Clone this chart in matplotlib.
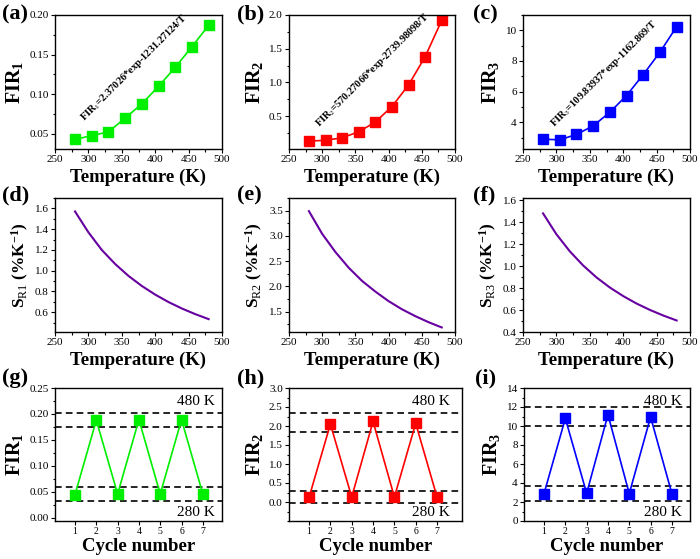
import numpy as np
import matplotlib
matplotlib.use('Agg')
import matplotlib.pyplot as plt
from matplotlib.ticker import AutoMinorLocator

plt.rcParams['font.family'] = ['Liberation Serif', 'DejaVu Serif']
plt.rcParams['mathtext.fontset'] = 'custom'
plt.rcParams['mathtext.rm'] = 'Liberation Serif'
plt.rcParams['mathtext.it'] = 'Liberation Serif:italic'
plt.rcParams['mathtext.bf'] = 'Liberation Serif:bold'

# ── Data ─────────────────────────────────────────────────────────────────────
temps = [280, 305, 330, 355, 380, 405, 430, 455, 480]
fir1 = [0.043, 0.048, 0.0525, 0.070, 0.088, 0.110, 0.134, 0.160, 0.187]
fir2 = [0.126, 0.14, 0.176, 0.266, 0.41, 0.64, 0.96, 1.38, 1.92]
fir3 = [2.89, 2.85, 3.2, 3.76, 4.65, 5.74, 7.11, 8.57, 10.24]

temps_s = [280, 300, 320, 340, 360, 380, 400, 420, 440, 460, 480]
sr1 = [1.57, 1.37, 1.20, 1.065, 0.95, 0.853, 0.77, 0.698, 0.636, 0.582, 0.534]
sr2 = [3.49, 3.04, 2.68, 2.37, 2.11, 1.90, 1.71, 1.55, 1.415, 1.295, 1.19]
sr3 = [1.48, 1.29, 1.135, 1.006, 0.897, 0.805, 0.727, 0.659, 0.601, 0.550, 0.505]

cycles = [1, 2, 3, 4, 5, 6, 7]
cyc1 = [0.045, 0.188, 0.046, 0.189, 0.046, 0.189, 0.046]
cyc2 = [0.12, 2.05, 0.13, 2.12, 0.13, 2.07, 0.13]
cyc3 = [2.88, 10.8, 2.91, 11.19, 2.88, 10.95, 2.88]

dash1 = [0.202, 0.174, 0.059, 0.032]
dash2 = [2.34, 1.85, 0.30, -0.035]
dash3 = [12.04, 10.04, 3.65, 2.07]

fit_texts = [r'FIR$_1$=2.37026*exp-1231.27124/T',
             r'FIR$_2$=570.27066*exp-2739.98098/T',
             r'FIR$_3$=109.83937*exp-1162.869/T']
# ─────────────────────────────────────────────────────────────────────────────

W, H = 700, 559
fig = plt.figure(figsize=(W / 100, H / 100), dpi=100)


def add_ax(x0, x1, y0, y1):
    return fig.add_axes([x0 / W, 1 - y1 / H, (x1 - x0) / W, (y1 - y0) / H])


def style(ax):
    ax.tick_params(which='both', direction='out', top=False, right=False,
                   labelsize=8, width=0.8, pad=1.5)
    ax.tick_params(which='major', length=3)
    ax.tick_params(which='minor', length=1.8)
    for s in ax.spines.values():
        s.set_linewidth(1.0)


cols = [(55, 222), (289, 455), (523, 690)]
row1 = (15, 149)
row2 = (198, 332)
row3 = (388, 521)
colors = ['#00ee00', '#ff0000', '#0000ff']
purple = '#6600a0'
letters = ['(a)', '(b)', '(c)', '(d)', '(e)', '(f)', '(g)', '(h)', '(i)']
label_x = [[2, 237, 473], [2, 237, 473], [2, 237, 475]]
label_y = [19, 200, 383]
LABEL_FS = 13.5

# Row 1: FIR vs temperature
firs = [fir1, fir2, fir3]
ylims1 = [(0.031, 0.20), (0.01, 2.0), (2.25, 11.0)]
yticks1 = [np.arange(0.05, 0.201, 0.05), np.arange(0.5, 2.01, 0.5), np.arange(4, 11, 2)]
yfmt1 = ['%.2f', '%.1f', '%d']
text_pos = [(293, 0.066), (296, 0.33), (296, 3.7)]
for i in range(3):
    ax = add_ax(cols[i][0], cols[i][1], *row1)
    ax.plot(temps, firs[i], '-s', color=colors[i], ms=7, lw=1.2)
    ax.set_xlim(250, 500)
    ax.set_ylim(*ylims1[i])
    ax.set_xticks(range(250, 501, 50))
    ax.set_yticks(yticks1[i])
    ax.set_yticklabels([yfmt1[i] % v for v in yticks1[i]])
    ax.xaxis.set_minor_locator(AutoMinorLocator(2))
    ax.yaxis.set_minor_locator(AutoMinorLocator(2))
    ax.set_xlabel('Temperature (K)', fontsize=LABEL_FS, fontweight='bold', labelpad=3)
    ax.set_ylabel(r'$\mathbf{FIR}_{\mathbf{%d}}$' % (i + 1), fontsize=LABEL_FS + 1,
                  labelpad=3)
    ax.text(text_pos[i][0], text_pos[i][1], fit_texts[i], rotation=45,
            rotation_mode='anchor', ha='left', va='baseline', fontsize=7.5,
            fontweight='bold')
    style(ax)

# Row 2: relative sensitivity
srs = [sr1, sr2, sr3]
ylims2 = [(0.41, 1.7), (1.1, 3.75), (0.4, 1.62)]
yticks2 = [np.arange(0.6, 1.61, 0.2), np.arange(1.5, 3.51, 0.5), np.arange(0.4, 1.61, 0.2)]
for i in range(3):
    ax = add_ax(cols[i][0], cols[i][1], *row2)
    ax.plot(temps_s, srs[i], '-', color=purple, lw=1.5)
    ax.set_xlim(250, 500)
    ax.set_ylim(*ylims2[i])
    ax.set_xticks(range(250, 501, 50))
    ax.set_yticks(yticks2[i])
    ax.set_yticklabels(['%.1f' % v for v in yticks2[i]])
    ax.xaxis.set_minor_locator(AutoMinorLocator(2))
    ax.yaxis.set_minor_locator(AutoMinorLocator(2))
    ax.set_xlabel('Temperature (K)', fontsize=LABEL_FS, fontweight='bold', labelpad=3)
    ax.set_ylabel(r'$\mathbf{S}_{\mathrm{R%d}}$ $\mathbf{(\%%K^{-1})}$' % (i + 1),
                  fontsize=12.5, labelpad=3)
    style(ax)

# Row 3: cycling
cycs = [cyc1, cyc2, cyc3]
dashes = [dash1, dash2, dash3]
ylims3 = [(-0.006, 0.25), (-0.5, 3.0), (0, 14)]
yticks3 = [np.arange(0, 0.251, 0.05), np.arange(0, 3.01, 0.5), np.arange(0, 15, 2)]
yfmt3 = ['%.2f', '%.1f', '%d']
cols3 = [(55, 222), (289, 462), (524, 690)]
xlims3 = [(0.06, 7.9), (0.06, 8.17), (0.06, 7.85)]
k_x = [0.955, 0.93, 0.95]
for i in range(3):
    ax = add_ax(cols3[i][0], cols3[i][1], *row3)
    for d in dashes[i]:
        ax.axhline(d, color='black', ls=(0, (4, 2.5)), lw=1.2)
    ax.plot(cycles, cycs[i], '-s', color=colors[i], ms=7, lw=1.2)
    ax.set_xlim(*xlims3[i])
    ax.set_ylim(*ylims3[i])
    ax.set_xticks(cycles)
    ax.set_yticks(yticks3[i])
    ax.set_yticklabels([yfmt3[i] % v for v in yticks3[i]])
    ax.yaxis.set_minor_locator(AutoMinorLocator(2))
    ax.set_xlabel('Cycle number', fontsize=LABEL_FS, fontweight='bold', labelpad=1)
    ax.set_ylabel(r'$\mathbf{FIR}_{\mathbf{%d}}$' % (i + 1), fontsize=LABEL_FS + 1,
                  labelpad=3)
    ax.text(k_x[i], 0.90, '480 K', transform=ax.transAxes, ha='right',
            va='center', fontsize=11)
    ax.text(k_x[i], 0.067, '280 K', transform=ax.transAxes, ha='right',
            va='center', fontsize=11)
    style(ax)
    ax.tick_params(axis='x', labelsize=7)

for r in range(3):
    for c in range(3):
        fig.text(label_x[r][c] / W, 1 - label_y[r] / H, letters[3 * r + c],
                 fontsize=16, fontweight='bold', ha='left', va='baseline')

fig.savefig('out.png', dpi=100)
